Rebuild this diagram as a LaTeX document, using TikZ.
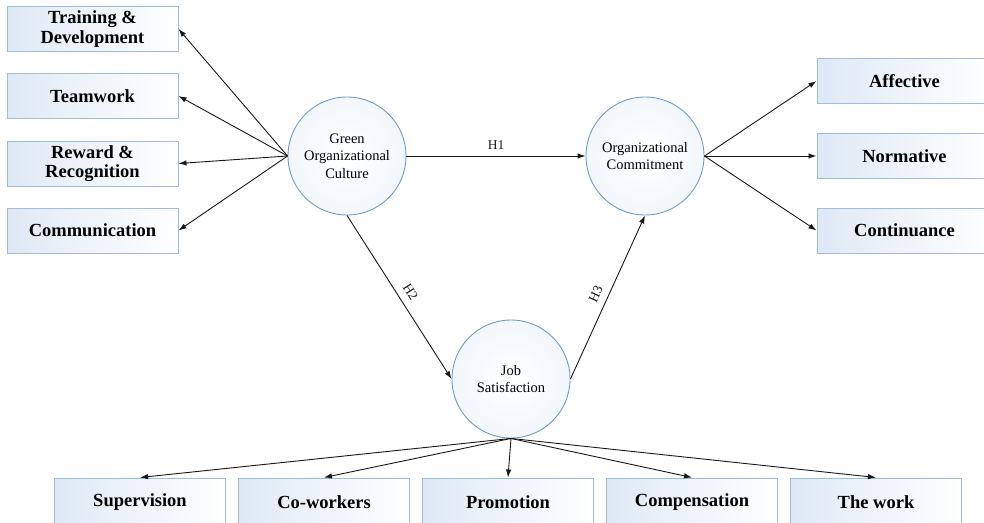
\documentclass[tikz,border=0pt]{standalone}
\usepackage{fontspec}
\setmainfont{Liberation Serif}
\newfontfamily\tnr{Liberation Serif}
\usetikzlibrary{arrows.meta}
\definecolor{boxline}{RGB}{160,188,215}
\definecolor{boxfill}{RGB}{222,233,246}
\definecolor{circline}{RGB}{115,155,200}
\definecolor{circfill}{RGB}{242,247,252}
\begin{document}
\begin{tikzpicture}[x=1pt,y=-1pt,
  dimbox/.style={draw=boxline,line width=1pt,left color=boxfill,right color=white,
    minimum height=45pt,inner sep=0pt,align=center,font=\tnr\fontsize{18.5}{19.5}\selectfont\bfseries},
  latent/.style={circle,draw=circline,line width=0.9pt,inner color=white,outer color=circfill,
    minimum size=118pt,inner sep=0pt,align=center,font=\tnr\fontsize{14.5}{17.5}\selectfont},
  arr/.style={-{Latex[length=8pt,width=5.5pt]},line width=0.9pt,black!90},
  hyp/.style={font=\tnr\fontsize{13.5}{15}\selectfont}]
\useasboundingbox (0,0) rectangle (984,522);
% left boxes
\node[dimbox,minimum width=171pt] (td) at (92.5,29) {Training \&\\Development};
\node[dimbox,minimum width=171pt] (tw) at (92.5,96) {Teamwork};
\node[dimbox,minimum width=171pt] (rr) at (92.5,163.5) {Reward \&\\Recognition};
\node[dimbox,minimum width=171pt] (cm) at (92.5,230.5) {Communication};
% right boxes
\node[dimbox,minimum width=175pt] (af) at (904.5,81) {Affective};
\node[dimbox,minimum width=175pt] (nm) at (904.5,156) {Normative};
\node[dimbox,minimum width=175pt] (ct) at (904.5,230.5) {Continuance};
% bottom boxes
\node[dimbox,minimum width=171pt,minimum height=48pt] (sv) at (140,502) {Supervision};
\node[dimbox,minimum width=171pt,minimum height=48pt] (cw) at (324,502) {Co-workers};
\node[dimbox,minimum width=171pt,minimum height=48pt] (pr) at (508,502) {Promotion};
\node[dimbox,minimum width=171pt,minimum height=48pt] (cp) at (692,502) {Compensation};
\node[dimbox,minimum width=171pt,minimum height=48pt] (wk) at (876,502) {The work};
% latent variables
\node[latent] (goc) at (347,156) {Green\\Organizational\\Culture};
\node[latent] (oc) at (645,156) {Organizational\\Commitment};
\node[latent] (js) at (511,379) {Job\\Satisfaction};
% arrows
\foreach \t in {td,tw,rr,cm}{\draw[arr] (goc.west) -- (\t.east);}
\foreach \t in {af,nm,ct}{\draw[arr] (oc.east) -- (\t.west);}
\foreach \t in {sv,cw,pr,cp,wk}{\draw[arr] (js.south) -- (\t.north);}
\draw[arr] (goc.east) -- node[hyp,above=3pt] (h1) {H1} (oc.west);
\draw[arr] (goc.south) -- node[hyp,sloped,above=4pt,pos=0.51] (h2) {H2} (js.west);
\draw[arr] (js.east) -- node[hyp,sloped,above=4pt,pos=0.49] (h3) {H3} (oc.south);
\end{tikzpicture}
\end{document}
